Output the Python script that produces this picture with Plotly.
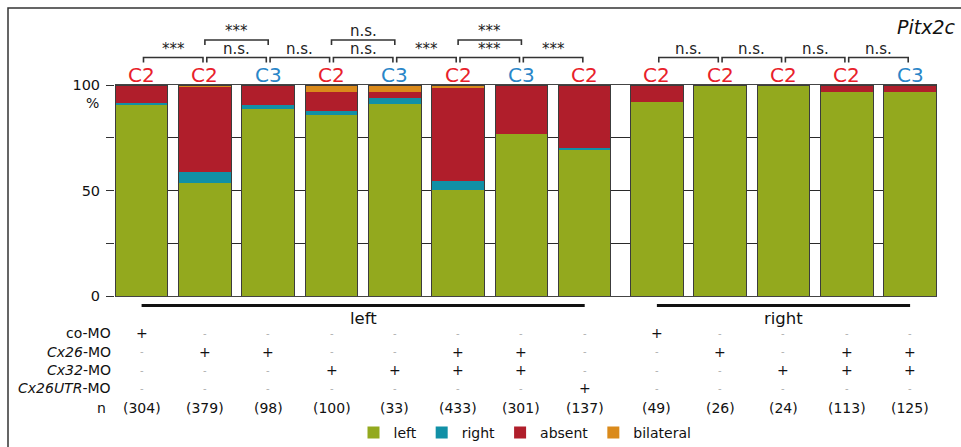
import plotly.graph_objects as go

# ---------------- data ----------------
conditions = ["C2", "C2", "C3", "C2", "C3", "C2", "C3", "C2", "C2", "C2", "C2", "C2", "C3"]
sides = ["left"] * 8 + ["right"] * 5
left_pct = [90.5, 53.7, 88.5, 85.8, 90.9, 50.1, 76.7, 69.3, 91.8, 100.0, 100.0, 96.5, 96.8]
right_pct = [1.0, 4.9, 2.0, 1.9, 3.0, 4.2, 0.0, 0.7, 0.0, 0.0, 0.0, 0.0, 0.0]
absent_pct = [8.5, 40.3, 9.5, 8.8, 3.0, 44.3, 23.3, 30.0, 8.2, 0.0, 0.0, 3.5, 3.2]
bilateral_pct = [0.0, 1.1, 0.0, 3.5, 3.1, 1.4, 0.0, 0.0, 0.0, 0.0, 0.0, 0.0, 0.0]
n_values = [304, 379, 98, 100, 33, 433, 301, 137, 49, 26, 24, 113, 125]

row_labels = ["co-MO", "<i>Cx26</i>-MO", "<i>Cx32</i>-MO", "<i>Cx26UTR</i>-MO"]
co_mo = [1, 0, 0, 0, 0, 0, 0, 0, 1, 0, 0, 0, 0]
cx26_mo = [0, 1, 1, 0, 0, 1, 1, 0, 0, 1, 0, 1, 1]
cx32_mo = [0, 0, 0, 1, 1, 1, 1, 0, 0, 0, 1, 1, 1]
cx26utr_mo = [0, 0, 0, 0, 0, 0, 0, 1, 0, 0, 0, 0, 0]

# (bar i, bar j, level, label)
comparisons = [
    (0, 1, 1, "***"), (1, 2, 1, "n.s."), (2, 3, 1, "n.s."), (3, 4, 1, "n.s."),
    (4, 5, 1, "***"), (5, 6, 1, "***"), (6, 7, 1, "***"),
    (8, 9, 1, "n.s."), (9, 10, 1, "n.s."), (10, 11, 1, "n.s."), (11, 12, 1, "n.s."),
    (1, 2, 2, "***"), (3, 4, 2, "n.s."), (5, 6, 2, "***"),
]
y_ticks = [0, 25, 50, 75, 100]
y_tick_labels = ["0", "", "50", "", "100"]

# ---------------- layout helpers ----------------
FONT = "DejaVu Sans"
W_FIG, H_FIG = 961, 447
ML, MR, MT, MB = 115, 24, 85, 151
PW, PH = W_FIG - ML - MR, H_FIG - MT - MB
GROUP_GAP = 0.14
BAR_W = 0.83


def px_x(px):
    return (px - ML) / PW


def px_y(py):
    return (MT + PH - py) / PH


pos = []
cur = 0.0
for i, s in enumerate(sides):
    if i > 0:
        cur += 1.0 + (GROUP_GAP if s != sides[i - 1] else 0.0)
    pos.append(cur)

x_range = [pos[0] - 0.42, pos[-1] + 0.425]

colors = {"left": "#93a91e", "right": "#1190a6", "absent": "#b01e2b", "bilateral": "#da8a1b"}
label_colors = {"C2": "#e8202a", "C3": "#2a86c8"}

fig = go.Figure()
for name, vals in [("left", left_pct), ("right", right_pct), ("absent", absent_pct), ("bilateral", bilateral_pct)]:
    fig.add_trace(go.Bar(
        x=pos, y=vals, name=name, width=BAR_W,
        marker=dict(color=colors[name], line=dict(width=0)),
        hoverinfo="skip",
    ))

totals = [a + b + c + d for a, b, c, d in zip(left_pct, right_pct, absent_pct, bilateral_pct)]
fig.add_trace(go.Bar(
    x=pos, y=totals, width=BAR_W, xaxis="x2", showlegend=False, hoverinfo="skip",
    marker=dict(color="rgba(0,0,0,0)", line=dict(color="#3c3c3c", width=1)),
))

annotations = []
shapes = []

# outer frame
shapes.append(dict(type="rect", xref="paper", yref="paper",
                   x0=px_x(8), x1=1.2, y0=-1.2, y1=px_y(8),
                   line=dict(color="#333333", width=1.5), layer="below"))

# condition labels above bars
for p, c in zip(pos, conditions):
    annotations.append(dict(x=p, xref="x", y=px_y(75), yref="paper", text=c, showarrow=False,
                            yanchor="middle", font=dict(family=FONT, size=20, color=label_colors[c])))

# significance brackets
level_line = {1: 57.5, 2: 40.0}
for i, j, lvl, lab in comparisons:
    inset = 0.03 if lvl == 1 else 0.0
    x0, x1 = pos[i] + inset, pos[j] - inset
    yl = px_y(level_line[lvl])
    yt = px_y(level_line[lvl] + 5)
    shapes.append(dict(type="path", xref="x", yref="paper",
                       path=f"M {x0},{yt} L {x0},{yl} L {x1},{yl} L {x1},{yt}",
                       line=dict(color="#333333", width=1.6)))
    annotations.append(dict(x=(pos[i] + pos[j]) / 2, xref="x", y=yl, yref="paper", text=lab,
                            showarrow=False, yanchor="bottom", yshift=-2,
                            font=dict(family=FONT, size=15, color="#222222")))

# side underlines and labels
for side in ["left", "right"]:
    idx = [k for k, s in enumerate(sides) if s == side]
    xa, xb = pos[idx[0]], pos[idx[-1]]
    shapes.append(dict(type="line", xref="x", yref="paper", x0=xa, x1=xb,
                       y0=px_y(305.5), y1=px_y(305.5), line=dict(color="#111111", width=3)))
    annotations.append(dict(x=(xa + xb) / 2, xref="x", y=px_y(318.5), yref="paper", text=side,
                            showarrow=False, yanchor="middle",
                            font=dict(family=FONT, size=16.5, color="#111111")))

# treatment table
row_py = [333, 351.7, 370, 388.3]
for lab, flags, py in zip(row_labels, [co_mo, cx26_mo, cx32_mo, cx26utr_mo], row_py):
    annotations.append(dict(x=0, xref="paper", xshift=-2, y=px_y(py), yref="paper", text=lab,
                            showarrow=False, xanchor="right", yanchor="middle",
                            font=dict(family=FONT, size=14, color="#111111")))
    for p, f in zip(pos, flags):
        annotations.append(dict(x=p, xref="x", y=px_y(py), yref="paper",
                                text="+" if f else "-", showarrow=False, yanchor="middle",
                                font=dict(family=FONT, size=14 if f else 10,
                                          color="#111111" if f else "#b0b0b0")))

annotations.append(dict(x=0, xref="paper", xshift=-7, y=px_y(407.7), yref="paper", text="n",
                        showarrow=False, xanchor="right", yanchor="middle",
                        font=dict(family=FONT, size=14, color="#111111")))
for p, n in zip(pos, n_values):
    annotations.append(dict(x=p, xref="x", y=px_y(407.7), yref="paper", text=f"({n})",
                            showarrow=False, yanchor="middle",
                            font=dict(family=FONT, size=14, color="#111111")))

# % label and title
annotations.append(dict(x=0, xref="paper", xshift=-14, y=px_y(103), yref="paper", text="%",
                        showarrow=False, xanchor="right", yanchor="middle",
                        font=dict(family=FONT, size=14, color="#111111")))
annotations.append(dict(x=px_x(958), xref="paper", y=px_y(27), yref="paper", text="<i>Pitx2c</i>",
                        showarrow=False, xanchor="right", yanchor="middle",
                        font=dict(family=FONT, size=19, color="#111111")))

fig.update_layout(
    width=W_FIG, height=H_FIG,
    margin=dict(l=ML, r=MR, t=MT, b=MB, pad=0, autoexpand=False),
    barmode="stack",
    paper_bgcolor="white", plot_bgcolor="white",
    font=dict(family=FONT, size=14, color="#111111"),
    xaxis=dict(range=x_range, showticklabels=False, ticks="", showgrid=False, zeroline=False,
               showline=True, linecolor="#444444", linewidth=1, mirror=True),
    xaxis2=dict(range=x_range, overlaying="x", matches="x", visible=False),
    yaxis=dict(range=[0, 100], tickvals=y_ticks, ticktext=y_tick_labels, ticks="outside",
               ticklen=8, tickcolor="#333333", tickwidth=1, showgrid=True, gridcolor="#2a2a2a",
               gridwidth=1.2, zeroline=False, showline=False, ticklabelstandoff=3,
               tickfont=dict(family=FONT, size=14.5, color="#111111")),
    showlegend=True,
    legend=dict(orientation="h", x=px_x(525), xanchor="center", y=px_y(433), yanchor="middle",
                font=dict(family=FONT, size=14, color="#111111"), bgcolor="rgba(0,0,0,0)",
                traceorder="normal", itemwidth=30, tracegroupgap=0),
    annotations=annotations, shapes=shapes,
)

fig.write_html("out.html")
